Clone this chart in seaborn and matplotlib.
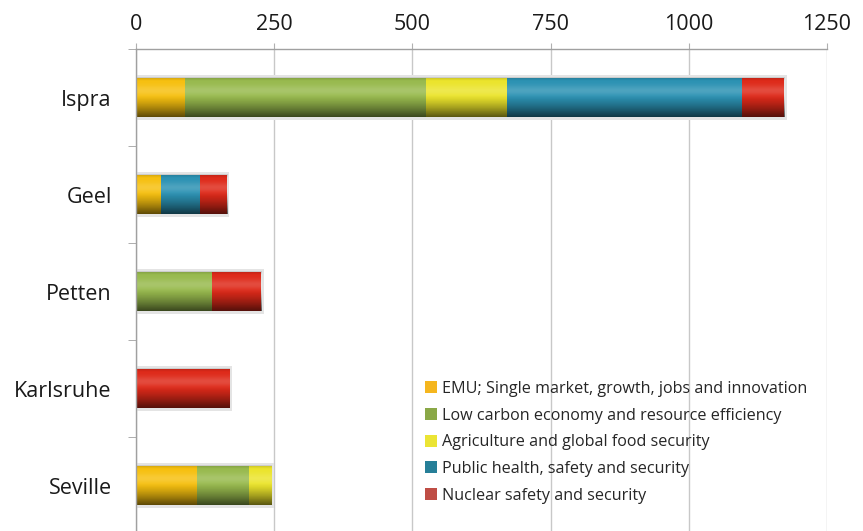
import numpy as np
import pandas as pd
import seaborn as sns
import matplotlib.pyplot as plt
from matplotlib.patches import Patch, Rectangle

# values (staff / budget per site and theme)
sites = ['Ispra', 'Geel', 'Petten', 'Karlsruhe', 'Seville']
emu = [88, 45, 0, 0, 110]
low_carbon = [437, 0, 137, 0, 95]
agriculture = [147, 0, 0, 0, 41]
public_health = [424, 70, 0, 0, 0]
nuclear = [77, 50, 90, 170, 0]

themes = ['EMU; Single market, growth, jobs and innovation',
          'Low carbon economy and resource efficiency',
          'Agriculture and global food security',
          'Public health, safety and security',
          'Nuclear safety and security']
bar_colours = ['#f6c010', '#98ba4e', '#ebe42c', '#2c92b3', '#de2a1a']
legend_colours = ['#f5b61e', '#8aa847', '#ebe434', '#267f98', '#bf4d45']
xticks = [0, 250, 500, 750, 1000, 1250]

df = pd.DataFrame(dict(zip(themes, [emu, low_carbon, agriculture, public_health, nuclear])), index=sites)
cum = df.cumsum(axis=1)

sns.set_style('white')
plt.rcParams['font.family'] = ['Open Sans', 'DejaVu Sans']

fig = plt.figure(figsize=(8.63, 5.31), dpi=100)
ax = fig.add_axes([0.1576, -0.0057, 0.8007, 0.9134])

bar_h = 0.41
# stacked bars: draw cumulative totals from the last theme to the first
for name, col in zip(reversed(themes), reversed(bar_colours)):
    sns.barplot(x=cum[name].values, y=sites, color=col, saturation=1,
                width=bar_h, errorbar=None, orient='h', ax=ax, zorder=1,
                linewidth=0, edgecolor='none')

# light halo and cylinder-like shading over every bar
t = np.linspace(0, 1, 64)
shade = np.zeros((64, 1, 4))
shade[:, 0, 3] = 0.62 * np.clip((t - 0.45) / 0.55, 0, 1) ** 1.3 + 0.12 * np.exp(-((t - 0.02) / 0.04) ** 2)
light = np.ones((64, 1, 4))
light[:, 0, 3] = 0.16 * np.exp(-((t - 0.33) / 0.13) ** 2)
for i, site in enumerate(sites):
    total = cum.loc[site].iloc[-1]
    halo = Rectangle((-2, i - bar_h / 2 - 0.03), total + 6, bar_h + 0.06,
                     facecolor='#e4e4e4', edgecolor='none', zorder=0.9)
    ax.add_patch(halo)
    ext = (0, total, i + bar_h / 2, i - bar_h / 2)
    ax.imshow(shade, extent=ext, aspect='auto', origin='upper', zorder=1.5, interpolation='bilinear')
    ax.imshow(light, extent=ext, aspect='auto', origin='upper', zorder=1.6, interpolation='bilinear')

ax.set_xlim(0, 1250)
ax.set_ylim(4.5, -0.5)
ax.set_xticks(xticks)
ax.xaxis.tick_top()
ax.set_axisbelow(True)
ax.grid(axis='x', color='#c8c8c8', linewidth=1)
ax.grid(axis='y', visible=False)
ax.set_xlabel('')
ax.set_ylabel('')

for s in ['right', 'bottom']:
    ax.spines[s].set_visible(False)
for s in ['top', 'left']:
    ax.spines[s].set_color('#a0a0a0')
    ax.spines[s].set_linewidth(1)

ax.tick_params(axis='x', top=True, length=4, color='#b0b0b0', pad=6,
               labelsize=15.5, labelcolor='#1a1a1a')
ax.tick_params(axis='y', which='major', left=False, pad=14,
               labelsize=15.5, labelcolor='#1a1a1a')
ax.set_yticks([-0.5, 0.5, 1.5, 2.5, 3.5], minor=True)
ax.tick_params(axis='y', which='minor', left=True, length=6, color='#a0a0a0')

handles = [Patch(facecolor=c, edgecolor='none') for c in legend_colours]
ax.legend(handles, themes, loc='upper left', bbox_to_anchor=(425 / 863, 1 - 381 / 531),
          bbox_transform=fig.transFigure, frameon=False, fontsize=11.6,
          handlelength=0.75, handleheight=0.75, handletextpad=0.3,
          labelspacing=0.66, borderpad=0, borderaxespad=0)

fig.savefig('out.png', dpi=100)
